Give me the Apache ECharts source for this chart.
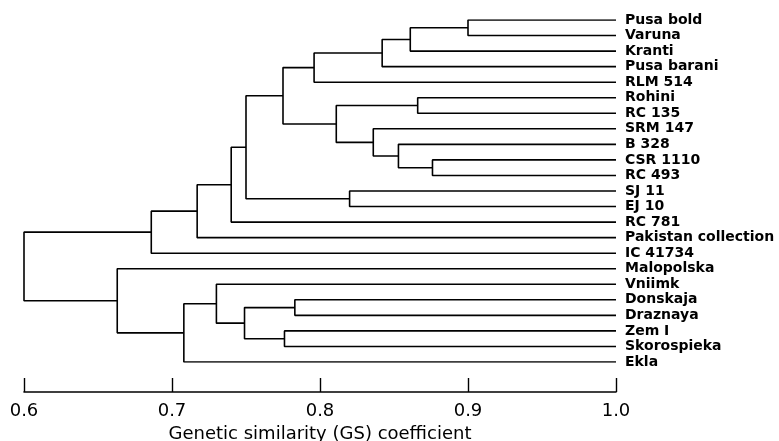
<!DOCTYPE html>
<html>
<head>
<meta charset="utf-8">
<script src="https://cdn.jsdelivr.net/npm/echarts@6/dist/echarts.min.js"></script>
<style>
  html, body { margin: 0; padding: 0; background: #fff; }
  #chart { width: 779px; height: 441px; }
</style>
</head>
<body>
<div id="chart"></div>
<script>
// leaves, top to bottom
var leafNames = ['Pusa bold', 'Varuna', 'Kranti', 'Pusa barani', 'RLM 514', 'Rohini', 'RC 135',
  'SRM 147', 'B 328', 'CSR 1110', 'RC 493', 'SJ 11', 'EJ 10', 'RC 781', 'Pakistan collection',
  'IC 41734', 'Malopolska', 'Vniimk', 'Donskaja', 'Draznaya', 'Zem I', 'Skorospieka', 'Ekla'];

// merges: [child a, child b, GS coefficient]; ids 0..22 are leaves, new cluster ids start at 23
var merges = [
  [0, 1, 0.900],   // 23
  [23, 2, 0.861],  // 24
  [24, 3, 0.842],  // 25
  [25, 4, 0.796],  // 26
  [5, 6, 0.866],   // 27
  [9, 10, 0.876],  // 28
  [8, 28, 0.853],  // 29
  [7, 29, 0.836],  // 30
  [27, 30, 0.811], // 31
  [26, 31, 0.775], // 32
  [11, 12, 0.820], // 33
  [32, 33, 0.750], // 34
  [34, 13, 0.740], // 35
  [35, 14, 0.717], // 36
  [36, 15, 0.686], // 37
  [18, 19, 0.783], // 38
  [20, 21, 0.776], // 39
  [38, 39, 0.749], // 40
  [17, 40, 0.730], // 41
  [41, 22, 0.708], // 42
  [16, 42, 0.663], // 43
  [37, 43, 0.600]  // 44
];

var xTicks = [0.6, 0.7, 0.8, 0.9, 1.0];

// position of every node: x = similarity, y = leaf row
var nodeX = [], nodeY = [];
leafNames.forEach(function (n, i) { nodeX[i] = 1.0; nodeY[i] = i; });
var series = merges.map(function (m, k) {
  var id = leafNames.length + k, a = m[0], b = m[1], h = m[2];
  nodeX[id] = h;
  nodeY[id] = (nodeY[a] + nodeY[b]) / 2;
  return {
    type: 'line',
    data: [[nodeX[a], nodeY[a]], [h, nodeY[a]], [h, nodeY[b]], [nodeX[b], nodeY[b]]],
    showSymbol: false,
    silent: true,
    lineStyle: { color: '#000', width: 1.6 }
  };
});

var chart = echarts.init(document.getElementById('chart'));
chart.setOption({
  animation: false,
  backgroundColor: '#fff',
  grid: { left: 24, right: 163, top: 20, height: 342, containLabel: false, outerBoundsMode: 'none' },
  xAxis: {
    type: 'value',
    position: 'bottom',
    min: xTicks[0], max: xTicks[xTicks.length - 1], interval: 0.1,
    offset: 30,
    axisLine: { show: true, onZero: false, lineStyle: { color: '#000', width: 1.6 } },
    axisTick: { show: true, inside: true, length: 14, lineStyle: { color: '#000', width: 1.4 } },
    splitLine: { show: false },
    axisLabel: {
      margin: 10, fontSize: 18, color: '#000', fontFamily: 'DejaVu Sans',
      formatter: function (v) { return v.toFixed(1); }
    },
    name: 'Genetic similarity (GS) coefficient',
    nameLocation: 'middle',
    nameGap: 31,
    nameTextStyle: { fontSize: 18, color: '#000', fontFamily: 'DejaVu Sans' }
  },
  yAxis: {
    type: 'value',
    inverse: true,
    position: 'right',
    min: 0, max: leafNames.length - 1, interval: 1,
    axisLine: { show: false },
    axisTick: { show: false },
    splitLine: { show: false },
    axisLabel: {
      margin: 9, fontSize: 14, color: '#000', fontFamily: 'DejaVu Sans', fontWeight: 'bold',
      formatter: function (v) { return leafNames[v] || ''; }
    }
  },
  series: series
});
</script>
</body>
</html>
